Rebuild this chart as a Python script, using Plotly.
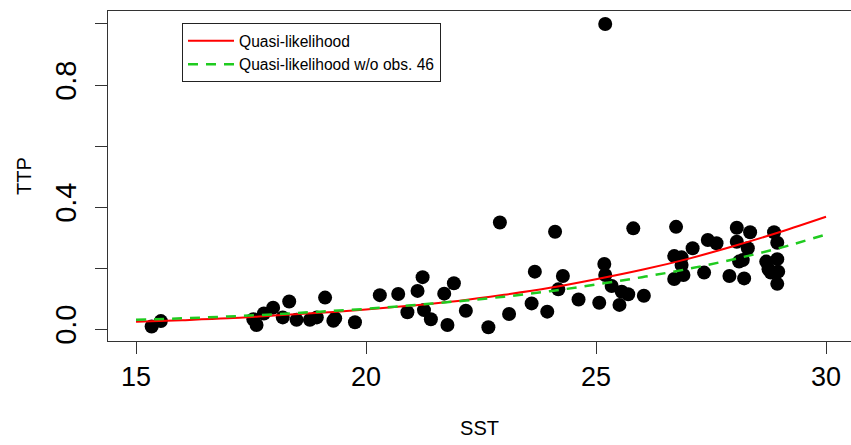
import plotly.graph_objects as go

# Observations (SST, TTP)
sst = [15.34, 15.54, 17.55, 17.62, 17.78, 17.98, 18.33, 18.19, 18.49, 18.78,
       18.93, 19.11, 19.29, 19.33, 19.76, 20.30, 20.70, 20.90, 21.12, 21.23,
       21.26, 21.41, 21.70, 21.77, 21.91, 22.17, 22.66, 22.91, 23.11, 23.67,
       23.60, 23.94, 24.11, 24.28, 24.18, 24.62, 25.07, 25.18, 25.20, 25.34,
       25.51, 25.56, 25.70, 25.81, 26.04, 26.70, 26.74, 26.86, 26.86, 26.70,
       26.90, 27.10, 27.35, 27.43, 27.62, 27.90, 28.06, 28.06, 28.11, 28.22,
       28.35, 28.30, 28.19, 28.70, 28.75, 28.87, 28.94, 28.94, 28.96, 28.94,
       28.80, 25.20]
ttp = [0.008, 0.026, 0.032, 0.013, 0.051, 0.070, 0.090, 0.038, 0.030, 0.030,
       0.038, 0.103, 0.027, 0.035, 0.022, 0.111, 0.115, 0.055, 0.125, 0.170,
       0.062, 0.032, 0.116, 0.013, 0.150, 0.060, 0.006, 0.349, 0.049, 0.188,
       0.084, 0.057, 0.319, 0.174, 0.130, 0.097, 0.086, 0.213, 0.177, 0.141,
       0.079, 0.122, 0.114, 0.330, 0.109, 0.239, 0.335, 0.235, 0.210, 0.164,
       0.177, 0.265, 0.185, 0.292, 0.281, 0.174, 0.332, 0.286, 0.221, 0.166,
       0.317, 0.265, 0.226, 0.221, 0.196, 0.317, 0.283, 0.229, 0.188, 0.148,
       0.185, 1.000]

# Fitted curves
fit_sst = [15, 16, 17, 18, 19, 20, 21, 22, 23, 24, 25, 26, 27, 28, 29, 30]
fit_ql = [0.024, 0.029, 0.035, 0.044, 0.053, 0.064, 0.077, 0.092, 0.112, 0.135,
          0.163, 0.194, 0.230, 0.272, 0.318, 0.368]
fit_ql_wo46 = [0.030, 0.035, 0.041, 0.048, 0.057, 0.066, 0.078, 0.091, 0.106, 0.124,
               0.146, 0.170, 0.197, 0.229, 0.266, 0.310]

x_ticks = [15, 20, 25, 30]
y_ticks = [0.0, 0.2, 0.4, 0.6, 0.8, 1.0]
y_tick_text = ["0.0", "", "0.4", "", "0.8", ""]

FONT = "Liberation Sans, Arial, Helvetica, sans-serif"

fig = go.Figure()
fig.add_trace(go.Scatter(x=sst, y=ttp, mode="markers", showlegend=False,
                         marker=dict(color="black", size=14, line=dict(width=0))))
fig.add_trace(go.Scatter(x=fit_sst, y=fit_ql, mode="lines", name="Quasi-likelihood",
                         line=dict(color="#FF0000", width=2, shape="spline")))
fig.add_trace(go.Scatter(x=fit_sst, y=fit_ql_wo46, mode="lines",
                         name="Quasi-likelihood w/o obs. 46",
                         line=dict(color="#1FCB1F", width=2.5, dash="10px,8px", shape="spline")))

fig.update_layout(
    width=851, height=445,
    margin=dict(l=108, r=0, t=11, b=104),
    paper_bgcolor="white", plot_bgcolor="white",
    font=dict(family=FONT, color="black"),
    legend=dict(x=0.0996, y=0.963, xanchor="left", yanchor="top",
                bgcolor="white", bordercolor="#222", borderwidth=1,
                font=dict(size=15.6, family=FONT), tracegroupgap=0, itemwidth=46),
    xaxis=dict(range=[14.391, 30.543], tickvals=x_ticks, ticktext=[str(v) for v in x_ticks],
               showgrid=False, zeroline=False, showline=True, mirror=True,
               linecolor="#333", linewidth=1, ticks="outside", ticklen=12,
               tickcolor="#333", tickfont=dict(size=27, family=FONT),
               title=dict(text="SST", font=dict(size=20, family=FONT), standoff=29)),
    yaxis=dict(range=[-0.0393, 1.0426], tickvals=y_ticks, ticktext=y_tick_text,
               showgrid=False, zeroline=False, showline=True, mirror=False,
               linecolor="#333", linewidth=1, ticks="outside", ticklen=12,
               tickcolor="#333", tickangle=-90, tickfont=dict(size=29, family=FONT),
               ticklabelstandoff=7,
               title=dict(text="TTP", font=dict(size=20, family=FONT), standoff=13)),
)

fig.write_html("out.html")
